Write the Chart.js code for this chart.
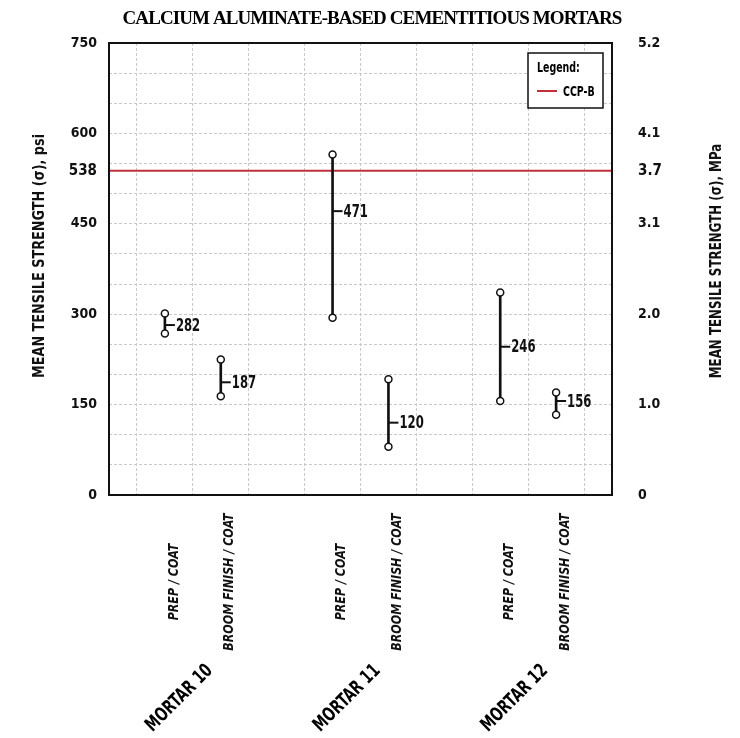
<!DOCTYPE html>
<html><head><meta charset="utf-8">
<script src="https://cdn.jsdelivr.net/npm/chart.js@4"></script>
<style>html,body{margin:0;padding:0;background:#fff}#wrap{width:740px;height:738px;position:relative}</style>
</head><body><div id="wrap"><canvas id="c" width="740" height="738"></canvas></div>
<script>
// ---- data ----
const chartTitle = 'CALCIUM ALUMINATE-BASED CEMENTITIOUS MORTARS';
const categories = ['', 'PREP / COAT', 'BROOM FINISH / COAT', '', 'PREP / COAT', 'BROOM FINISH / COAT', '', 'PREP / COAT', 'BROOM FINISH / COAT', ''];
const mortarGroups = ['MORTAR 10', 'MORTAR 11', 'MORTAR 12'];
const highValues = [null, 301, 225, null, 565, 192, null, 336, 170, null];
const lowValues  = [null, 268, 164, null, 294, 80, null, 156, 133, null];
const meanValues = [null, 282, 187, null, 471, 120, null, 246, 156, null];
const ccpbLabel = 'CCP-B';
const ccpbValue = 538;
const psiTicks = [0, 150, 300, 450, 538, 600, 750];
const mpaTicks = ['0', '1.0', '2.0', '3.1', '3.7', '4.1', '5.2'];
const gridStep = 50;
const yMax = 750;
const yLeftTitle = 'MEAN TENSILE STRENGTH (\u03C3), psi';
const yRightTitle = 'MEAN TENSILE STRENGTH (\u03C3), MPa';

const COND = '"DejaVu Sans Condensed", "Liberation Sans Narrow", sans-serif';
const RED = '#c0303c';

const gridValues = [];
for (let v = 0; v <= yMax; v += gridStep) gridValues.push(v);

function drawText(ctx, text, x, y, opts) {
  ctx.save();
  ctx.translate(x, y);
  if (opts.rotate) ctx.rotate(opts.rotate);
  ctx.scale(opts.sx || 1, 1);
  ctx.font = opts.font;
  ctx.textAlign = opts.align || 'left';
  ctx.textBaseline = 'middle';
  ctx.fillStyle = opts.color || '#111';
  ctx.fillText(text, 0, 0);
  ctx.restore();
}

const overlay = {
  id: 'overlay',
  afterDatasetsDraw(chart) {
    const {ctx, scales: {x, y}} = chart;
    ctx.save();
    ctx.strokeStyle = '#111'; ctx.lineWidth = 2;
    meanValues.forEach((v, i) => {
      if (v == null) return;
      const px = x.getPixelForValue(i), py = y.getPixelForValue(v);
      ctx.beginPath(); ctx.moveTo(px, py); ctx.lineTo(px + 10, py); ctx.stroke();
      drawText(ctx, String(v), px + 11, py + 1, {font: 'bold 18px ' + COND, sx: 0.72});
    });
    ctx.restore();
  },
  afterDraw(chart) {
    const {ctx, chartArea: a, scales: {x}} = chart;
    ctx.save();
    // frame
    ctx.strokeStyle = '#111'; ctx.lineWidth = 2;
    ctx.strokeRect(a.left, a.top, a.right - a.left, a.bottom - a.top);
    // title
    ctx.save();
    ctx.fillStyle = '#000';
    ctx.font = 'bold 19px "Liberation Serif", "Times New Roman", serif';
    if ('letterSpacing' in ctx) ctx.letterSpacing = '-0.9px';
    ctx.textAlign = 'center'; ctx.textBaseline = 'middle';
    ctx.fillText(chartTitle, 372, 19);
    ctx.restore();
    // axis titles
    drawText(ctx, yLeftTitle, 40, 256, {font: 'bold 15px ' + COND, rotate: -Math.PI / 2, align: 'center', sx: 0.95});
    drawText(ctx, yRightTitle, 717, 261, {font: 'bold 15px ' + COND, rotate: -Math.PI / 2, align: 'center', sx: 0.88});
    // category labels
    categories.forEach((c, i) => {
      if (!c) return;
      const px = x.getPixelForValue(i);
      drawText(ctx, c, px + 9, 582, {font: 'italic bold 14px ' + COND, rotate: -Math.PI / 2, align: 'center', sx: 0.88});
    });
    // mortar group labels
    mortarGroups.forEach((m, g) => {
      const mid = (x.getPixelForValue(3 * g + 1) + x.getPixelForValue(3 * g + 2)) / 2;
      drawText(ctx, m, mid + 17, 668, {font: 'bold 19px ' + COND, rotate: -Math.PI / 4, align: 'right', sx: 0.78, color: '#000'});
    });
    // legend
    const bx = a.right - 84, by = a.top + 10, bw = 75, bh = 55;
    ctx.fillStyle = '#fff'; ctx.fillRect(bx, by, bw, bh);
    ctx.strokeStyle = '#111'; ctx.lineWidth = 1.5; ctx.strokeRect(bx, by, bw, bh);
    drawText(ctx, 'Legend:', bx + 9, by + 15, {font: 'bold 14px ' + COND, sx: 0.75, color: '#000'});
    ctx.strokeStyle = RED; ctx.lineWidth = 2;
    ctx.beginPath(); ctx.moveTo(bx + 9, by + 38); ctx.lineTo(bx + 29, by + 38); ctx.stroke();
    drawText(ctx, chart.data.datasets[3].label, bx + 35, by + 39, {font: 'bold 14px ' + COND, sx: 0.75, color: '#000'});
    ctx.restore();
  }
};

new Chart(document.getElementById('c'), {
  data: {
    labels: categories,
    datasets: [
      { type: 'line', label: 'High', data: highValues, showLine: false, pointRadius: 3.5,
        pointBackgroundColor: '#fff', pointBorderColor: '#111', pointBorderWidth: 1.5 },
      { type: 'line', label: 'Low', data: lowValues, showLine: false, pointRadius: 3.5,
        pointBackgroundColor: '#fff', pointBorderColor: '#111', pointBorderWidth: 1.5 },
      { type: 'bar', label: 'Range', data: categories.map((_, i) => lowValues[i] == null ? null : [lowValues[i], highValues[i]]),
        backgroundColor: '#111', barThickness: 2 },
      { type: 'line', label: ccpbLabel, data: categories.map((_, i) => (i === 0 || i === categories.length - 1) ? ccpbValue : null),
        spanGaps: true, borderColor: RED, borderWidth: 2, pointRadius: 0 }
    ]
  },
  options: {
    responsive: false, animation: false,
    layout: { padding: { top: 43, left: 0, right: 0, bottom: 0 } },
    plugins: { legend: { display: false }, tooltip: { enabled: false }, title: { display: false } },
    scales: {
      x: {
        type: 'category', offset: false,
        grid: { color: '#c9c9c9', lineWidth: 1, drawTicks: false },
        border: { display: false, dash: [3, 2] },
        ticks: { display: false },
        afterFit: s => { s.height = 243; }
      },
      y: {
        type: 'linear', position: 'left', min: 0, max: yMax,
        afterBuildTicks: s => { s.ticks = gridValues.concat([ccpbValue]).sort((a, b) => a - b).map(v => ({value: v})); },
        grid: { color: c => (c.tick && c.tick.value === ccpbValue) ? 'rgba(0,0,0,0)' : '#c9c9c9', lineWidth: 1, drawTicks: false },
        border: { display: false, dash: [3, 2] },
        ticks: { autoSkip: false, padding: 12, color: '#111',
          font: c => ({ family: COND, size: (c.tick && c.tick.value === ccpbValue) ? 15 : 14, weight: 'bold' }),
          callback: v => psiTicks.includes(v) ? String(v) : '' },
        afterFit: s => { s.width = 109; }
      },
      y2: {
        type: 'linear', position: 'right', min: 0, max: yMax,
        afterBuildTicks: s => { s.ticks = psiTicks.map(v => ({value: v})); },
        grid: { display: false, drawTicks: false },
        border: { display: false },
        ticks: { autoSkip: false, padding: 26, color: '#111',
          font: c => ({ family: COND, size: (c.tick && c.tick.value === ccpbValue) ? 15 : 14, weight: 'bold' }),
          callback: v => mpaTicks[psiTicks.indexOf(v)] },
        afterFit: s => { s.width = 128; }
      }
    }
  },
  plugins: [overlay]
});
</script>
</body></html>
